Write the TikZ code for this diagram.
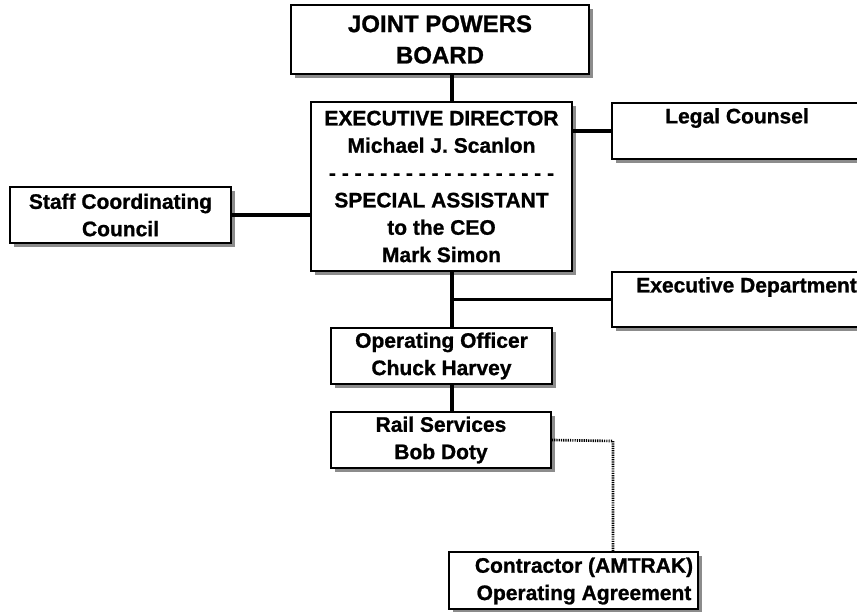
\documentclass[tikz,border=0pt]{standalone}
\usepackage{fontspec}
\setmainfont{Liberation Sans}[BoldFeatures={FakeBold=1}]
\usetikzlibrary{shadows}
\begin{document}
\begin{tikzpicture}[x=0.75pt,y=-0.75pt,
  box/.style={draw=black, line width=1.3pt, fill=white, inner sep=0pt, align=center,
    font=\bfseries\fontsize{15.75}{20.5}\selectfont,
    drop shadow={shadow xshift=3pt, shadow yshift=-3pt, fill=black!45, opacity=1}},
  frame/.style 2 args={minimum width=#1*0.75pt, minimum height=#2*0.75pt},
  lbl/.style={inner sep=0pt, align=center, font=\bfseries\fontsize{15.75}{20.5}\selectfont},
  link/.style={line width=2.6pt},
  dotlink/.style={line width=2pt, dash pattern=on 0.9pt off 0.8pt, black}]
\useasboundingbox (0,0) rectangle (857,611);
\fill[white] (0,0) rectangle (857,611);
\clip (0,0) rectangle (857,611);

% organisation boxes
\node[box, frame={298}{69}, font=\bfseries\fontsize{18}{23.5}\selectfont] (jpb) at (440,39.5) {JOINT POWERS\\BOARD};
\node[box, frame={261}{169}] (ed) at (441.5,186.5) {EXECUTIVE DIRECTOR\\Michael J. Scanlon\\- - - - - - - - - - - - - - - - - -\\SPECIAL ASSISTANT\\to the CEO\\Mark Simon};
\node[box, frame={250}{56}] (legal) at (737,131) {};
\node[lbl] (legaltxt) at (737,118) {Legal Counsel};
\node[box, frame={221}{56}] (staff) at (120.5,215) {Staff Coordinating\\Council};
\node[box, frame={250}{55}] (exec) at (737,299.5) {};
\node[lbl, anchor=west] (exectxt) at (636,287) {Executive Department};
\node[box, frame={221}{56}] (oo) at (441.5,356) {Operating Officer\\Chuck Harvey};
\node[box, frame={220}{56}] (rs) at (441,440) {Rail Services\\Bob Doty};
\node[box, frame={249}{57}] (ctr) at (573.5,580.5) {};
\node[lbl] (ctrtxt) at (584,581) {Contractor (AMTRAK)\\Operating Agreement};

% reporting lines
\coordinate (trunk) at (452,0);
\coordinate (bend) at (613,441);
\draw[link] (jpb.south -| trunk) -- (ed.north -| trunk);
\draw[link] (ed.south -| trunk) -- (oo.north -| trunk);
\draw[link] (oo.south -| trunk) -- (rs.north -| trunk);
\draw[link] (legal.west) -- (legal.west -| ed.east);
\draw[link] (staff.east) -- (staff.east -| ed.west);
\draw[link] (exec.west) -- (exec.west -| trunk);
\draw[dotlink] (rs.east) -- (bend) -- (bend |- ctr.north);
\end{tikzpicture}
\end{document}
